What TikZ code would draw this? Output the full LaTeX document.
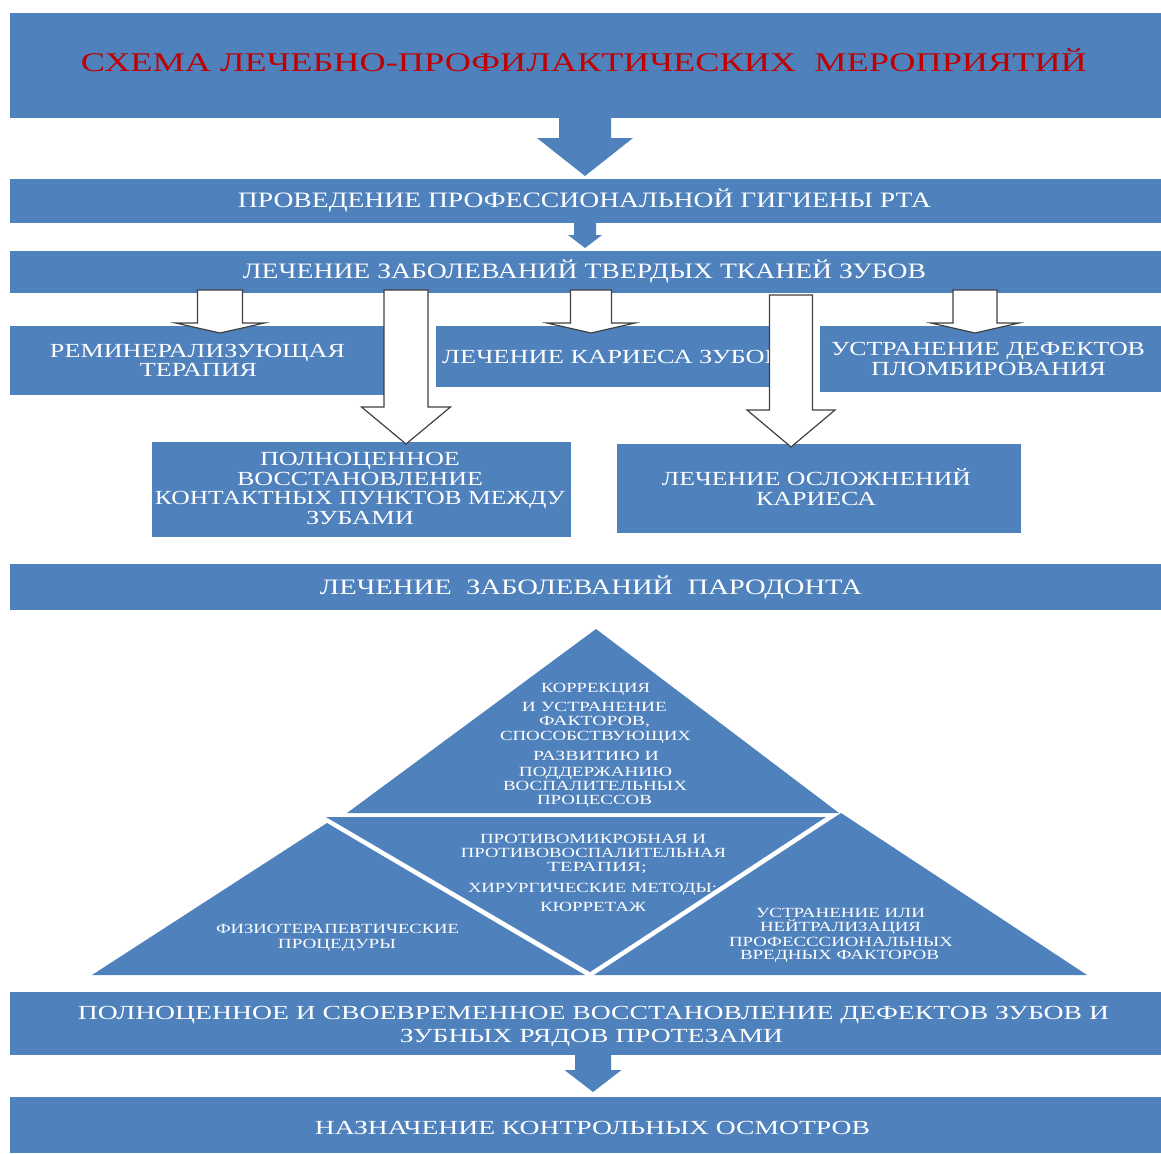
\documentclass[tikz,border=0pt]{standalone}
\usepackage{fontspec}
\setmainfont{Liberation Serif}
\usepackage{graphicx}
\definecolor{blu}{HTML}{4F81BD}
\definecolor{ttlred}{HTML}{C00000}
\tikzset{
  box/.style={fill=blu, draw=none, inner sep=0pt, outer sep=0pt},
  txt/.style={text=white, inner sep=0pt, anchor=base},
  fttl/.style={txt, text=ttlred, font=\fontsize{27}{27}\selectfont},
  fbig/.style={txt, font=\fontsize{22}{22}\selectfont},
  fmid/.style={txt, font=\fontsize{20}{20}\selectfont},
  fsml/.style={txt, font=\fontsize{14}{14}\selectfont},
  bluearrow/.style={fill=blu, draw=none},
  whitearrow/.style={fill=white, draw=black!75, line width=1.2pt, line join=miter},
  pyr/.style={fill=blu, draw=none},
}
\newcommand\tl[6]{\node[#1] (#2) at (#3,#4) {\resizebox{#5pt}{\height}{#6}};}
\newcommand\boxn[5]{\node[box, minimum width={#4pt-#2pt}, minimum height={#5pt-#3pt}] (#1) at ({(#2+#4)/2},{(#3+#5)/2}) {};}
\newcommand\blockarrow[7]{%
  \path[#1] ({#2-#6/2},#3) -- ({#2-#6/2},#4) -- ({#2-#7/2},#4) -- (#2,#5) -- ({#2+#7/2},#4) -- ({#2+#6/2},#4) -- ({#2+#6/2},#3) -- cycle;}
\begin{document}
\begin{tikzpicture}[x=1pt,y=-1pt]
\useasboundingbox (0,0) rectangle (1161,1153);
% boxes
\boxn{title}{10}{13}{1161}{118}
\boxn{hyg}{10}{179}{1161}{223}
\boxn{hard}{10}{251}{1161}{293}
\boxn{rem}{10}{326}{400}{395}
\boxn{car}{436}{326}{790}{387}
\boxn{def}{820}{326}{1161}{392}
\boxn{full}{152}{442}{571}{537}
\boxn{compl}{617}{444}{1021}{533}
\boxn{paro}{10}{564}{1161}{610}
\boxn{prot}{10}{992}{1161}{1055}
\boxn{ctrl}{10}{1097}{1161}{1153}
% blue arrows
\blockarrow{bluearrow}{585}{117}{138}{176}{52}{96}
\blockarrow{bluearrow}{585}{222}{235}{248}{22}{34}
\blockarrow{bluearrow}{593}{1054}{1070}{1092}{36}{57}
% texts
\tl{fttl}{tTitle}{584}{72}{1006}{СХЕМА ЛЕЧЕБНО-ПРОФИЛАКТИЧЕСКИХ\ \ МЕРОПРИЯТИЙ}
\tl{fbig}{tHyg}{584.5}{207}{693}{ПРОВЕДЕНИЕ ПРОФЕССИОНАЛЬНОЙ ГИГИЕНЫ РТА}
\tl{fbig}{tHard}{584.5}{278}{683}{ЛЕЧЕНИЕ ЗАБОЛЕВАНИЙ ТВЕРДЫХ ТКАНЕЙ ЗУБОВ}
\tl{fmid}{tRem1}{197.5}{357}{295}{РЕМИНЕРАЛИЗУЮЩАЯ}
\tl{fmid}{tRem2}{198.5}{376}{117}{ТЕРАПИЯ}
\tl{fmid, anchor=base west}{tCar}{442}{363}{340}{ЛЕЧЕНИЕ КАРИЕСА ЗУБОВ}
\tl{fmid}{tDef1}{988}{355}{314}{УСТРАНЕНИЕ ДЕФЕКТОВ}
\tl{fmid}{tDef2}{988.5}{375}{235}{ПЛОМБИРОВАНИЯ}
\tl{fmid}{tFull1}{360}{465}{200}{ПОЛНОЦЕННОЕ}
\tl{fmid}{tFull2}{360}{485}{246}{ВОССТАНОВЛЕНИЕ}
\tl{fmid}{tFull3}{360}{504}{410}{КОНТАКТНЫХ ПУНКТОВ МЕЖДУ}
\tl{fmid}{tFull4}{360}{524}{108}{ЗУБАМИ}
\tl{fmid}{tCompl1}{816.5}{485}{309}{ЛЕЧЕНИЕ ОСЛОЖНЕНИЙ}
\tl{fmid}{tCompl2}{816}{505}{120}{КАРИЕСА}
\tl{fbig}{tParo}{591}{594}{542}{ЛЕЧЕНИЕ\ \ ЗАБОЛЕВАНИЙ\ \ ПАРОДОНТА}
\tl{fmid}{tProt1}{593.5}{1019}{1031}{ПОЛНОЦЕННОЕ И СВОЕВРЕМЕННОЕ ВОССТАНОВЛЕНИЕ ДЕФЕКТОВ ЗУБОВ И}
\tl{fmid}{tProt2}{591.5}{1042}{383}{ЗУБНЫХ РЯДОВ ПРОТЕЗАМИ}
\tl{fmid}{tCtrl}{592.5}{1134}{555}{НАЗНАЧЕНИЕ КОНТРОЛЬНЫХ ОСМОТРОВ}
% white arrows
\blockarrow{whitearrow}{220}{290}{323}{333}{45}{89}
\blockarrow{whitearrow}{406}{290}{407}{444}{44}{89}
\blockarrow{whitearrow}{591}{290}{323}{333}{41}{88}
\blockarrow{whitearrow}{791}{295}{410}{447}{43}{88}
\blockarrow{whitearrow}{975}{290}{323}{333}{44}{88}
% pyramid
\path[pyr] (596,629) -- (839,813) -- (347,813) -- cycle;
\path[pyr] (326,817) -- (826,817) -- (590,972) -- cycle;
\path[pyr] (327,823) -- (585,975) -- (92,975) -- cycle;
\path[pyr] (841,813) -- (1087,975) -- (594,975) -- cycle;
% pyramid texts
\tl{fsml}{p1}{595.5}{692.6}{109}{КОРРЕКЦИЯ}
\tl{fsml}{p2}{594.5}{711.6}{145}{И УСТРАНЕНИЕ}
\tl{fsml}{p3}{594.5}{725.6}{111}{ФАКТОРОВ,}
\tl{fsml}{p4}{595.5}{740.6}{191}{СПОСОБСТВУЮЩИХ}
\tl{fsml}{p5}{596}{760.6}{126}{РАЗВИТИЮ И}
\tl{fsml}{p6}{595.5}{776.6}{153}{ПОДДЕРЖАНИЮ}
\tl{fsml}{p7}{595}{790.6}{184}{ВОСПАЛИТЕЛЬНЫХ}
\tl{fsml}{p8}{594.5}{804.6}{115}{ПРОЦЕССОВ}
\tl{fsml}{m1}{593}{843.6}{226}{ПРОТИВОМИКРОБНАЯ И}
\tl{fsml}{m2}{593.5}{857.6}{265}{ПРОТИВОВОСПАЛИТЕЛЬНАЯ}
\tl{fsml}{m3}{597}{871.6}{100}{ТЕРАПИЯ;}
\tl{fsml}{m4}{592.5}{892.6}{249}{ХИРУРГИЧЕСКИЕ МЕТОДЫ;}
\tl{fsml}{m5}{593}{911.6}{106}{КЮРРЕТАЖ}
\tl{fsml}{l1}{337.5}{933.6}{243}{ФИЗИОТЕРАПЕВТИЧЕСКИЕ}
\tl{fsml}{l2}{337}{948.6}{118}{ПРОЦЕДУРЫ}
\tl{fsml}{r1}{840.5}{917.6}{169}{УСТРАНЕНИЕ ИЛИ}
\tl{fsml}{r2}{840.5}{931.6}{161}{НЕЙТРАЛИЗАЦИЯ}
\tl{fsml}{r3}{841}{946.6}{224}{ПРОФЕСССИОНАЛЬНЫХ}
\tl{fsml}{r4}{839.5}{959.6}{199}{ВРЕДНЫХ ФАКТОРОВ}
\end{tikzpicture}
\end{document}
